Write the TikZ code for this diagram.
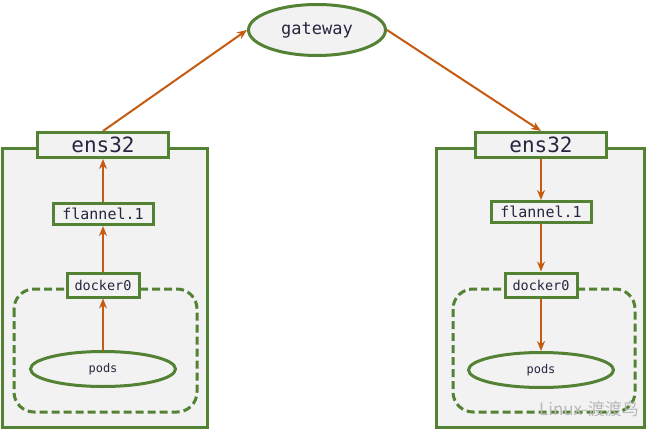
\documentclass[tikz,border=0pt]{standalone}
\usepackage{fontspec}
\setmonofont{DejaVu Sans Mono}
\newfontfamily\cjkfont{Noto Sans CJK SC}
\usetikzlibrary{shapes.geometric, positioning, arrows.meta}

\definecolor{hostgreen}{HTML}{548235}
\definecolor{linkorange}{HTML}{C55A11}
\definecolor{hostgray}{HTML}{F2F2F2}
\definecolor{labelink}{HTML}{262640}

\begin{document}
\begin{tikzpicture}[
    x=1pt, y=-1pt, >=Stealth,
    host/.style={draw=hostgreen, line width=3pt, fill=hostgray},
    podnet/.style={draw=hostgreen, line width=3pt, dash pattern=on 8pt off 4pt, rounded corners=20pt},
    iface/.style={draw=hostgreen, line width=3pt, fill=hostgray, text=labelink, inner sep=0pt},
    pod/.style={ellipse, draw=hostgreen, line width=3pt, fill=hostgray, text=labelink, font=\ttfamily\fontsize{12}{13}\selectfont, minimum width=145pt, minimum height=35pt, inner sep=0pt},
    link/.style={->, draw=linkorange, line width=2pt, >={Stealth[length=10pt, width=8pt]}}
]
    \useasboundingbox (0,0) rectangle (647,430);

    % hosts
    \draw[host] (2,149) rectangle (207,427);
    \draw[host] (436,149) rectangle (644,427);
    \draw[podnet] (14,289) rectangle (197,412);
    \draw[podnet] (453,289) rectangle (635,412);

    % gateway
    \node[ellipse, draw=hostgreen, line width=3pt, fill=hostgray, text=labelink, font=\ttfamily\fontsize{17}{19}\selectfont,
          minimum width=137pt, minimum height=51pt, inner sep=0pt] (gw) at (317,30) {gateway};

    % left host
    \node[iface, minimum width=131pt, minimum height=25pt, font=\ttfamily\fontsize{21}{23}\selectfont] (lens) at (103,145) {ens32};
    \node[iface, minimum width=100pt, minimum height=21pt, font=\ttfamily\fontsize{15}{17}\selectfont] (lfl) at (103,214) {flannel.1};
    \node[iface, minimum width=72pt, minimum height=24pt, font=\ttfamily\fontsize{13.5}{15}\selectfont] (ldk) at (103,285) {docker0};
    \node[pod] (lpods) at (103,369) {pods};

    % right host
    \node[iface, minimum width=131pt, minimum height=25pt, font=\ttfamily\fontsize{21}{23}\selectfont] (rens) at (541,145) {ens32};
    \node[iface, minimum width=100pt, minimum height=21pt, font=\ttfamily\fontsize{15}{17}\selectfont] (rfl) at (541,212) {flannel.1};
    \node[iface, minimum width=72pt, minimum height=24pt, font=\ttfamily\fontsize{13.5}{15}\selectfont] (rdk) at (541,285) {docker0};
    \node[pod] (rpods) at (541,370) {pods};

    \path
        (lpods) edge[link] (ldk)
        (ldk)   edge[link] (lfl)
        (lfl)   edge[link] (lens)
        (lens.north) edge[link] (gw.west)
        (gw.east) edge[link] (rens.north)
        (rens)  edge[link] (rfl)
        (rfl)   edge[link] (rdk)
        (rdk)   edge[link] (rpods);

    \node[text=gray!55, font=\cjkfont\fontsize{17}{19}\selectfont, anchor=east, inner sep=0pt] (mark) at (639,409) {Linux-渡渡鸟};
\end{tikzpicture}
\end{document}
